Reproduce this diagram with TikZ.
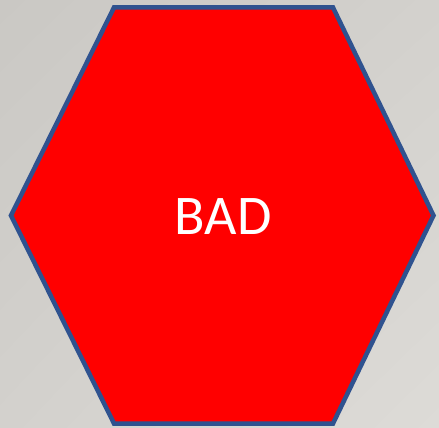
\documentclass[tikz,border=0pt]{standalone}
\usepackage{fontspec}
\setmainfont{Carlito}
\usetikzlibrary{shadings}
\definecolor{bgA}{RGB}{202,200,196}
\definecolor{bgM}{RGB}{211,209,205}
\definecolor{bgB}{RGB}{221,219,215}
\definecolor{hexblue}{RGB}{47,82,143}
\definecolor{hexred}{RGB}{255,0,0}
\tikzset{hexstyle/.style={fill=hexred,draw=hexblue,line width=4.5pt,line join=miter}}
\begin{document}
\begin{tikzpicture}[x=1pt,y=-1pt]
\shade[upper left=bgA,upper right=bgM,lower left=bgM,lower right=bgB] (0,0) rectangle (439,428);
\useasboundingbox (0,0) rectangle (439,428);
\draw[hexstyle] (114,7.5) -- (333,7.5) -- (433.5,215.5) -- (333,423.5) -- (114,423.5) -- (11,215.5) -- cycle;
\node[text=white,font=\fontsize{56}{64}\selectfont,inner sep=0pt] (t) at (223,217) {BAD};
\end{tikzpicture}
\end{document}
